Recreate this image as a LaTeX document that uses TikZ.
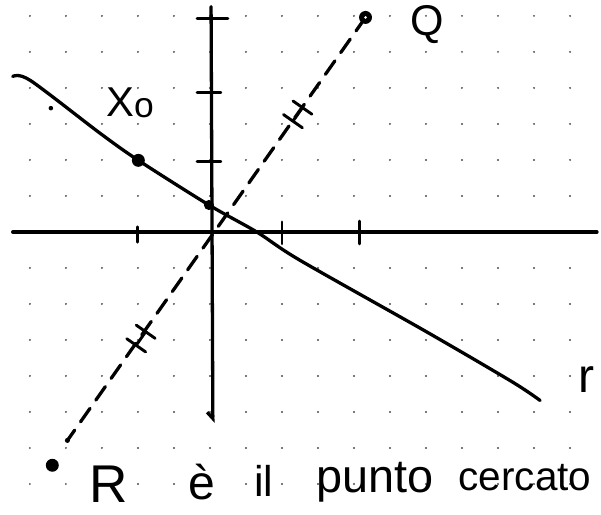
\documentclass[tikz,border=0pt]{standalone}
\usepackage{fontspec}
\setmainfont{Liberation Sans}
\usetikzlibrary{arrows.meta,calc}

\begin{document}
\begin{tikzpicture}[
  pen/.style={line width=2.6pt, line cap=round, line join=round},
  dashline/.style={pen, dash pattern=on 13pt off 8pt},
  tickmark/.style={pen, line width=2.3pt},
  gdot/.style={fill=black!70},
  lbl/.style={inner sep=0pt, font=\fontsize{32}{32}\selectfont}
]
\useasboundingbox (-5.833,-7.861) rectangle (10.861,6.444);
% dot grid
\foreach \x in {-5,...,10}
  \foreach \y in {-7,...,6}
    \fill[gdot] (\x,\y) circle (0.8pt);

% axes
\coordinate (xl) at (-5.48,0);
\coordinate (xr) at (10.75,0);
\coordinate (yt) at (0.03,6.26);
\coordinate (yb) at (0.08,-5.3);
\draw[pen] (xl) -- (xr);
\draw[pen, -{Straight Barb[right, length=5pt, width=9pt]}] (yt) -- (yb);
\foreach \x/\a/\b in {-2.02/0.14/-0.28, 2/0.28/-0.33, 4.15/0.3/-0.33}
  \draw[tickmark] (\x,\a) -- (\x,\b);
\foreach \y/\a in {5.92/0.5, 3.88/0.3, 1.97/0.3}
  \draw[tickmark] (-0.36,\y) -- (\a,\y);

% line r
\draw[pen] plot[smooth, tension=0.5] coordinates {(-5.48,4.32) (-4.99,4.21)
  (-3.05,2.74) (-1.99,1.99) (-0.03,0.75) (1.3,0) (2.49,-0.78) (6.01,-2.77)
  (8.39,-4.16) (9.17,-4.68)};
\fill (-4.42,3.44) circle (1.8pt);

% points
\coordinate (X0) at (-1.99,1.99);
\coordinate (P) at (-0.03,0.75);
\coordinate (Q) at (4.32,5.96);
\coordinate (R) at (-4.38,-6.48);
\coordinate (Rd) at (-3.96,-5.79);
\draw[dashline] (Q) -- (Rd);
\fill (Rd) circle (2pt);
\coordinate (m1) at ($(Q)!0.2165!(R)$);
\coordinate (m2) at ($(Q)!0.717!(R)$);
\foreach \m in {m1,m2}
  \draw[tickmark, shift={(\m)}, rotate=55] (-0.23,-0.32) -- (-0.23,0.32)
    (0.23,-0.32) -- (0.23,0.32) (-0.23,0) -- (0.23,0);
\fill (X0) circle (0.18);
\fill (P) circle (0.14);
\fill (R) circle (0.18);
\fill (Q) circle (0.18);
\fill[white] (Q) circle (0.04);

% labels
\node[lbl, font=\fontsize{33}{33}\selectfont] (xlab) at (-2.22,3.58)
  {X\raisebox{-1pt}{\fontsize{28}{28}\selectfont o}};
\node[lbl, font=\fontsize{34}{34}\selectfont] (qlab) at (6.03,5.75) {Q};
\node[lbl, font=\fontsize{38}{38}\selectfont] (rlab) at (10.47,-4.11) {r};
\node[lbl, font=\fontsize{42}{42}\selectfont] (Rlab) at (-2.81,-7.0) {R};
\node[lbl, font=\fontsize{38}{38}\selectfont] (elab) at (-0.22,-6.95) {è};
\node[lbl, font=\fontsize{34}{34}\selectfont] (illab) at (1.5,-6.92) {il};
\node[lbl, font=\fontsize{37}{37}\selectfont] (punto) at (4.58,-6.94) {punto};
\node[lbl] (cercato) at (8.75,-6.83) {cercato};
\end{tikzpicture}
\end{document}
